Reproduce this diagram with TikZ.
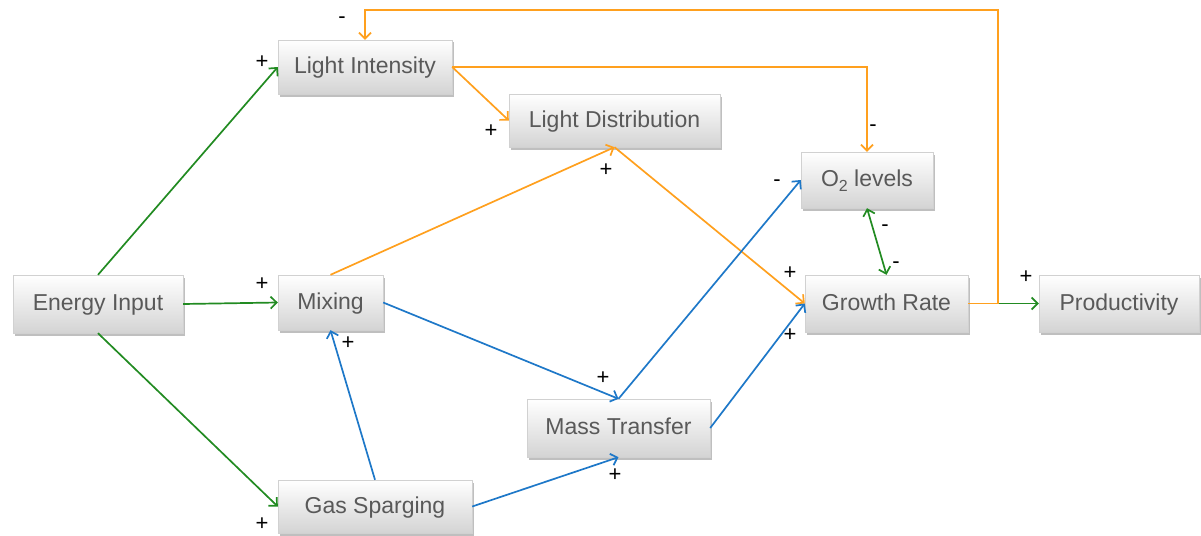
\documentclass[tikz,border=0pt]{standalone}
\usepackage{fontspec}
\setmainfont{Liberation Sans}
\usetikzlibrary{arrows.meta,shadows,calc}
\definecolor{cgreen}{RGB}{34,139,34}
\definecolor{corange}{RGB}{255,160,30}
\definecolor{cblue}{RGB}{30,120,200}
\definecolor{ctext}{RGB}{89,89,89}
\begin{document}
\begin{tikzpicture}[x=1pt,y=-1pt,
  box/.style={rectangle, draw=black!18, top color=white, bottom color=black!17, text=ctext,
    font=\fontsize{23}{26}\selectfont, inner sep=0pt, text depth=0.3em,
    drop shadow={opacity=0.5, shadow xshift=2pt, shadow yshift=-2.5pt}},
  lab/.style={font=\fontsize{22}{24}\selectfont, text=black, inner sep=0pt},
  con/.style={line width=1.7pt, -{Straight Barb[length=6pt,width=12pt]}},
  gcon/.style={con, draw=cgreen},
  ocon/.style={con, draw=corange},
  bcon/.style={con, draw=cblue}]
\useasboundingbox (0,0) rectangle (1201,535);
% nodes
\node[box, minimum width=174pt, minimum height=54pt] (LI) at (365,67) {Light Intensity};
\node[box, minimum width=211pt, minimum height=53pt] (LD) at (614.5,120.5) {Light Distribution};
\node[box, minimum width=132pt, minimum height=56pt] (O2) at (867,180) {O{\raisebox{-0.35ex}{\fontsize{16}{16}\selectfont 2}} levels};
\node[box, minimum width=163pt, minimum height=57pt] (GR) at (886.5,303.5) {Growth Rate};
\node[box, minimum width=160pt, minimum height=57pt] (PR) at (1119,303.5) {Productivity};
\node[box, minimum width=170pt, minimum height=58pt] (EI) at (98,304) {Energy Input};
\node[box, minimum width=105pt, minimum height=55pt] (MX) at (330.5,302.5) {Mixing};
\node[box, minimum width=183pt, minimum height=58pt] (MT) at (618.5,428) {Mass Transfer};
\node[box, minimum width=194pt, minimum height=53pt] (GS) at (375,506.5) {Gas Sparging};
% connectors
\coordinate (fb) at (998,10);
\coordinate (jn) at (fb |- GR.east);
\draw[gcon] (EI.north) -- (LI.west);
\draw[gcon] (EI.east) -- (MX.west);
\draw[gcon] (EI.south) -- (GS.west);
\draw[gcon] (jn) -- (PR.west);
\draw[gcon, {Straight Barb[length=6pt,width=12pt]}-{Straight Barb[length=6pt,width=12pt]}] (O2.south) -- (GR.north);
\draw[ocon] (LI.east) -- (LD.west);
\draw[ocon] (LI.east) -| (O2.north);
\draw[ocon] (GR.east) -| (fb) -| (LI.north);
\draw[ocon] (MX.north) -- (LD.south);
\draw[ocon] (LD.south) -- (GR.west);
\draw[bcon] (MX.east) -- (MT.north);
\draw[bcon] (MT.north) -- (O2.west);
\draw[bcon] (MT.east) -- (GR.west);
\draw[bcon] (GS.north) -- (MX.south);
\draw[bcon] (GS.east) -- (MT.south);
% polarity labels
\node[lab] (l1) at (262,62) {+};
\node[lab] (l2) at (342,20) {-};
\node[lab] (l3) at (491,131) {+};
\node[lab] (l4) at (606,170) {+};
\node[lab] (l5) at (873,128) {-};
\node[lab] (l6) at (777,183) {-};
\node[lab] (l7) at (885,228) {-};
\node[lab] (l8) at (896,265) {-};
\node[lab] (l9) at (790,273) {+};
\node[lab] (l10) at (790,335) {+};
\node[lab] (l11) at (1026,277) {+};
\node[lab] (l12) at (262,284) {+};
\node[lab] (l13) at (348,343) {+};
\node[lab] (l14) at (603,378) {+};
\node[lab] (l15) at (615,475) {+};
\node[lab] (l16) at (262,524) {+};
\end{tikzpicture}
\end{document}
